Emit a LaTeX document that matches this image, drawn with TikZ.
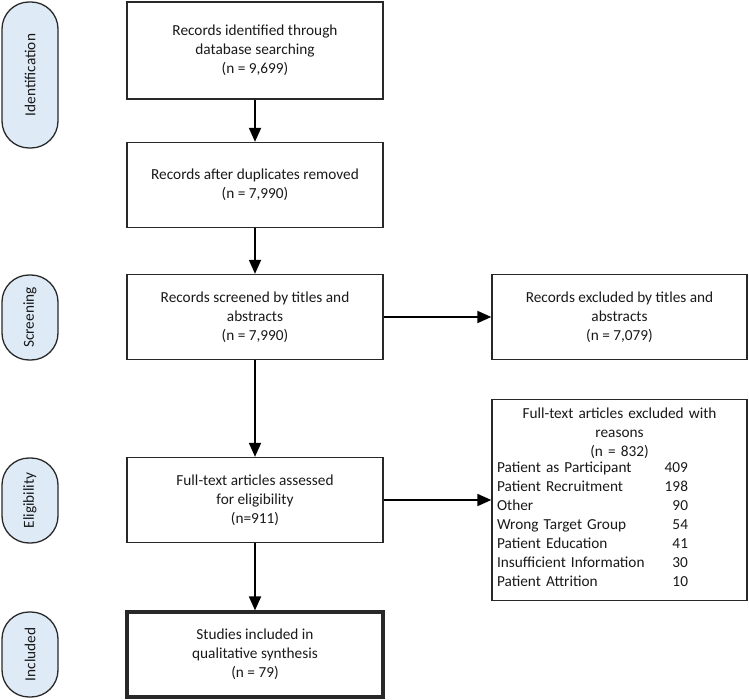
\documentclass[tikz,border=0pt]{standalone}
\usepackage{fontspec}
\setmainfont{Carlito}
\usetikzlibrary{arrows.meta}
\definecolor{phasefill}{RGB}{222,235,247}
\definecolor{edgegray}{RGB}{40,40,40}

\begin{document}
\begin{tikzpicture}[x=1pt, y=-1pt, font=\fontsize{15.3pt}{19pt}\selectfont,
    stepbox/.style={draw=edgegray, line width=1.3pt, align=center, minimum width=256pt, minimum height=85pt, text=black!90},
    phase/.style={draw=edgegray, line width=1.3pt, fill=phasefill, rounded corners=27pt, rotate=90, minimum height=56pt, text=black!90},
    flow/.style={line width=1.8pt, -{Triangle[length=14pt,width=12pt]}}]
    \useasboundingbox (0,0) rectangle (749,700);

    % phases on the left
    \node[phase, minimum width=146pt] (ident) at (30,75) {Identification};
    \node[phase, minimum width=85pt] (screen) at (30,317.5) {Screening};
    \node[phase, minimum width=85pt] (elig) at (30,500.5) {Eligibility};
    \node[phase, minimum width=85pt] (incl) at (30,654.5) {Included};

    % main column
    \node[stepbox, minimum height=97pt] (found) at (255,50.5) {Records identified through\\database searching\\(n = 9,699)};
    \node[stepbox] (dedup) at (255,185) {Records after duplicates removed\\(n = 7,990)};
    \node[stepbox] (screened) at (255,317) {Records screened by titles and\\abstracts\\(n = 7,990)};
    \node[stepbox] (assessed) at (255,500) {Full-text articles assessed\\for eligibility\\(n=911)};
    \node[stepbox, line width=3.2pt] (included) at (255,654.5) {Studies included in\\qualitative synthesis\\(n = 79)};

    % excluded records
    \node[stepbox, minimum width=255pt] (exclA) at (619.5,317) {Records excluded by titles and\\abstracts\\(n = 7,079)};
    \node[draw=edgegray, line width=1.3pt, text=black!90, text width=245pt, inner sep=5pt, minimum height=201pt] (exclB) at (619.5,500) {%
        {\centering Full-text articles excluded with\par reasons\par (n = 832)\par}%
        \begin{tabular*}{191pt}{@{}l@{\extracolsep{\fill}}r@{}}
            Patient as Participant & 409\\
            Patient Recruitment & 198\\
            Other & 90\\
            Wrong Target Group & 54\\
            Patient Education & 41\\
            Insufficient Information & 30\\
            Patient Attrition & 10
        \end{tabular*}};

    % arrows
    \draw[flow] (found) -- (dedup);
    \draw[flow] (dedup) -- (screened);
    \draw[flow] (screened) -- (assessed);
    \draw[flow] (assessed) -- (included);
    \draw[flow] (screened) -- (exclA);
    \draw[flow] (assessed) -- (exclB);
\end{tikzpicture}
\end{document}
